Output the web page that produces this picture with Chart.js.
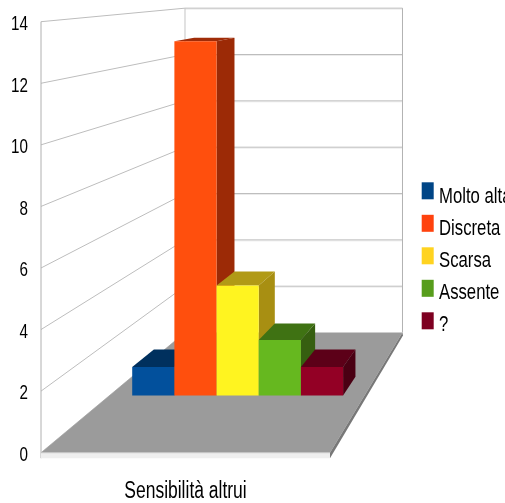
<!DOCTYPE html>
<html>
<head>
<meta charset="utf-8">
<style>
html,body{margin:0;padding:0;background:#fff;overflow:hidden}
canvas{display:block;filter:blur(.35px)}
</style>
<script src="https://cdn.jsdelivr.net/npm/chart.js@4/dist/chart.umd.min.js"></script>
</head>
<body>
<canvas id="c" width="505" height="503"></canvas>
<script>
const categories = ["Sensibilità altrui"];
const seriesNames = ["Molto alta", "Discreta", "Scarsa", "Assente", "?"];
const molto = [1];
const discreta = [13];
const scarsa = [4];
const assente = [2];
const ignoto = [1];
const yMin = 0, yMax = 14, yStep = 2;

const legendColors = ["#004586", "#ff420e", "#ffd320", "#579d1c", "#7e0021"];
const frontColors  = ["#02509c", "#ff4f0d", "#fff420", "#66b81f", "#930025"];
const topColors    = ["#00305e", "#a02c08", "#b19a16", "#3f7213", "#5c0018"];
const sideColors   = ["#002a52", "#9c2a06", "#a88f12", "#365f10", "#4a0013"];
const FONT = '"Liberation Sans",sans-serif';
const SQUEEZE = 0.76;

// perspective: vanishing point and depth factors of the chart's box
const VP = {x: 623, y: -33};
const S_BACK = 0.7526, S_BAR_FRONT = 0.8824, S_BAR_BACK = 0.8435;
const proj = (x, y, s) => [VP.x + (x - VP.x) * s, VP.y + (y - VP.y) * s];
function poly(ctx, pts, fill) {
  ctx.beginPath();
  pts.forEach((p, i) => i ? ctx.lineTo(p[0], p[1]) : ctx.moveTo(p[0], p[1]));
  ctx.closePath();
  ctx.fillStyle = fill;
  ctx.fill();
}
function line(ctx, a, b, color) {
  ctx.beginPath();
  ctx.moveTo(a[0], a[1]);
  ctx.lineTo(b[0], b[1]);
  ctx.strokeStyle = color;
  ctx.lineWidth = 1;
  ctx.stroke();
}
function squeezedText(ctx, text, x, y, size, align) {
  ctx.save();
  ctx.translate(x, y);
  ctx.scale(SQUEEZE, 1);
  ctx.font = size + "px " + FONT;
  ctx.textAlign = align;
  ctx.textBaseline = "alphabetic";
  ctx.fillStyle = "#000";
  ctx.fillText(text, 0, 0);
  ctx.restore();
}

const box3d = {
  id: "box3d",
  beforeDatasetsDraw(chart) {
    const {ctx, chartArea: a, scales: {y}} = chart;
    const L = a.left, R = a.right, B = y.getPixelForValue(yMin), T = y.getPixelForValue(yMax);
    ctx.save();
    // walls and grid
    y.ticks.forEach(t => {
      const py = y.getPixelForValue(t.value);
      const bl = proj(L, py, S_BACK), br = proj(R, B, S_BACK);
      line(ctx, [L, py], bl, "#bdbdbd");
      if (t.value > yMin) {
        line(ctx, [bl[0], bl[1] + 1], [br[0], bl[1] + 1], "#ececec");
        line(ctx, bl, [br[0], bl[1]], "#bdbdbd");
      }
    });
    const tl = proj(L, T, S_BACK), fl = proj(L, B, S_BACK), fr = proj(R, B, S_BACK);
    line(ctx, tl, fl, "#c4c4c4");
    line(ctx, [fr[0], tl[1]], fr, "#b3b3b3");
    line(ctx, [L, T], [L, B + 5.5], "#b0b0b0");
    // floor and its edges
    poly(ctx, [[L, B], fl, fr, [R, B]], "#9b9b9b");
    poly(ctx, [[L, B], [R, B], [R, B + 5.5], [L, B + 5.5]], "#efefef");
    poly(ctx, [[R, B], fr, [fr[0] + 0.5, fr[1] + 3], [R, B + 5.5]], "#787878");
    line(ctx, [L, B], [R, B], "#c4c4c4");
    // bars
    chart.data.datasets.forEach((ds, i) => {
      const bar = chart.getDatasetMeta(i).data[0];
      const shift = 0.8;
      const xl = bar.x - bar.width / 2 + shift, xr = bar.x + bar.width / 2 + shift;
      const f = (x, v) => proj(x, v, S_BAR_FRONT);
      const k = (x, v) => proj(x, v, S_BAR_BACK);
      const lift = 1.3;
      const up = p => [p[0], p[1] - lift];
      const yb = bar.base, yt = bar.y;
      poly(ctx, [up(f(xl, yt)), up(k(xl, yt)), up(k(xr, yt)), up(f(xr, yt))], topColors[i]);
      poly(ctx, [up(f(xr, yt)), up(k(xr, yt)), k(xr, yb), f(xr, yb)], sideColors[i]);
      poly(ctx, [up(f(xl, yt)), up(f(xr, yt)), f(xr, yb), f(xl, yb)], frontColors[i]);
    });
    ctx.restore();
    return false;
  },
  afterDraw(chart) {
    const {ctx, chartArea: a, scales: {y}} = chart;
    ctx.save();
    y.ticks.forEach(t => {
      squeezedText(ctx, t.label, 28, y.getPixelForValue(t.value) + 8.3, 20, "right");
    });
    squeezedText(ctx, chart.data.labels[0], (a.left + a.right) / 2, 497.7, 23, "center");
    chart.data.datasets.forEach((ds, i) => {
      const top = 182.3 + i * 32.5;
      ctx.fillStyle = ds.backgroundColor;
      ctx.fillRect(421.7, top, 12, 17);
      squeezedText(ctx, ds.label, 439, 203 + i * 32.1, 22, "left");
    });
    ctx.restore();
  }
};

const seriesValues = [molto, discreta, scarsa, assente, ignoto];
new Chart(document.getElementById("c"), {
  type: "bar",
  data: {
    labels: categories,
    datasets: seriesNames.map((name, i) => ({
      label: name,
      data: seriesValues[i],
      backgroundColor: legendColors[i],
      categoryPercentage: 0.827,
      barPercentage: 1
    }))
  },
  options: {
    responsive: false,
    animation: false,
    layout: {padding: {top: 21.7, left: 0, right: 175, bottom: 0}},
    plugins: {legend: {display: false}, title: {display: false}, tooltip: {enabled: false}},
    scales: {
      x: {
        grid: {display: false},
        border: {display: false},
        ticks: {display: false},
        afterFit(s) { s.height = 50.3; }
      },
      y: {
        min: yMin, max: yMax,
        grid: {display: false},
        border: {display: false},
        ticks: {stepSize: yStep, display: false},
        afterFit(s) { s.width = 41; }
      }
    }
  },
  plugins: [box3d]
});
</script>
</body>
</html>
